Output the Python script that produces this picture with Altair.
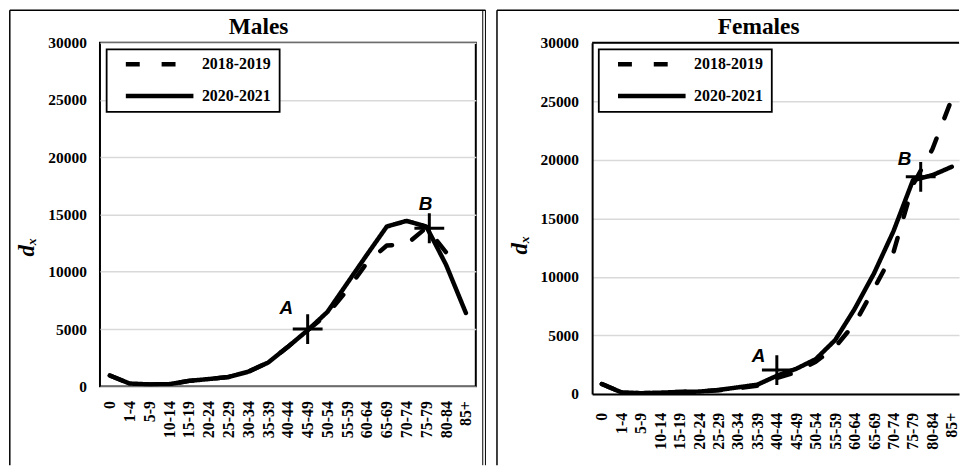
import json
import altair as alt
import pandas as pd

# ---------------- data ----------------
ages = ["0", "1-4", "5-9", "10-14", "15-19", "20-24", "25-29", "30-34", "35-39",
        "40-44", "45-49", "50-54", "55-59", "60-64", "65-69", "70-74", "75-79",
        "80-84", "85+"]
periods = ["2018-2019", "2020-2021"]

males_2018_2019 = [950, 250, 170, 190, 480, 640, 820, 1280, 2080, 3450, 4900,
                   6300, 8400, 10800, 12300, 12400, 13850, 11700, None]
males_2020_2021 = [950, 250, 170, 190, 480, 640, 820, 1280, 2080, 3450, 4900,
                   6500, 9000, 11500, 13950, 14440, 13950, 10600, 6400]

females_2018_2019 = [850, 140, 60, 110, 170, 200, 320, 480, 700, 1350, 1850,
                     2750, 4000, 6000, 9000, 12100, 17850, 20900, 25200]
females_2020_2021 = [850, 140, 60, 110, 170, 200, 340, 560, 790, 1550, 2150,
                     2970, 4600, 7250, 10300, 13900, 18250, 18680, 19400]

y_ticks = [0, 5000, 10000, 15000, 20000, 25000, 30000]

# annotation crosses (category position, d_x value)
males_ann_labels = ["A", "B"]
males_ann_pos = [10.0, 16.15]
males_ann_val = [5000, 13800]
females_ann_labels = ["A", "B"]
females_ann_pos = [9.0, 16.4]
females_ann_val = [2040, 18540]

SERIF = "Liberation Serif, Times New Roman, serif"
SANS = "Liberation Sans, Arial, sans-serif"
label_expr = json.dumps(ages) + "[datum.value]"


def panel(title, s_old, s_new, ann_labels, ann_pos, ann_val, ann_offsets,
          width, height, x_max, title_dx, title_offset, xlab_pad, title_y,
          frame_left, right_lines, top_right, own_border):
    rows = []
    for name, series in zip(periods, [s_old, s_new]):
        for i, v in enumerate(series):
            if v is not None:
                rows.append({"idx": i, "age": ages[i], "period": name, "value": v})
    df = pd.DataFrame(rows)

    x = alt.X("idx:Q",
              scale=alt.Scale(domain=[-0.5, x_max], nice=False, zero=False),
              axis=alt.Axis(values=list(range(len(ages))), labelExpr=label_expr,
                            labelAngle=270, labelAlign="right", labelBaseline="middle",
                            labelPadding=xlab_pad, ticks=False, tickSize=0,
                            domain=own_border, domainColor="black", domainWidth=2,
                            grid=False, title=None,
                            labelFont=SERIF, labelFontSize=16, labelFontWeight="bold",
                            labelColor="black", labelOverlap=False))
    y = alt.Y("value:Q",
              scale=alt.Scale(domain=[0, 30000], nice=False),
              axis=alt.Axis(values=y_ticks, format="d", ticks=False, tickSize=0,
                            domain=own_border, domainColor="black", domainWidth=2,
                            grid=True, gridColor="#d9d9d9", gridWidth=1.5,
                            labelFont=SERIF, labelFontSize=15.5, labelFontWeight="bold",
                            labelColor="black", labelPadding=13.7,
                            title="dₓ", titleFont=SERIF, titleFontSize=23,
                            titleFontStyle="italic", titleFontWeight="bold",
                            titleColor="black", titleAngle=270, titleAlign="center",
                            titleBaseline="alphabetic", titleX=-66.5, titleY=title_y))

    lines = alt.Chart(df).mark_line(
        color="black", strokeWidth=4.5, strokeCap="round", strokeJoin="round", clip=True
    ).encode(
        x=x, y=y,
        strokeDash=alt.StrokeDash(
            "period:N",
            scale=alt.Scale(domain=periods, range=[[14, 22], [1, 0]]),
            legend=alt.Legend(orient="none", legendX=6.7, legendY=6.7, title=None,
                              direction="vertical", padding=8,
                              strokeColor="black", fillColor="white",
                              symbolType="stroke", symbolSize=4624,
                              symbolStrokeWidth=4.5, symbolStrokeColor="black",
                              symbolOffset=8.8, clipHeight=14, rowPadding=16,
                              labelOffset=6, labelFont=SERIF, labelFontSize=16,
                              labelFontWeight="bold", labelColor="black")),
    )

    ann = pd.DataFrame({"label": ann_labels, "idx": ann_pos, "value": ann_val})
    crosses = alt.Chart(ann).mark_point(
        shape="M-1,0L1,0M0,-1L0,1", size=900, strokeWidth=3, color="black",
        filled=False, opacity=1
    ).encode(x=x, y=y)

    layers = [lines, crosses]
    for i, (dx, dy) in enumerate(ann_offsets):
        layers.append(
            alt.Chart(ann.iloc[[i]]).mark_text(
                dx=dx, dy=dy, font=SANS, fontSize=19, fontStyle="italic",
                fontWeight="bold", color="black", align="center", baseline="middle"
            ).encode(x=x, y=y, text="label:N")
        )

    frame_src = alt.Chart(pd.DataFrame({"k": [0]}))
    if own_border:
        # top edge of the plot area (the right edge lies outside the picture)
        layers.append(frame_src.mark_rule(color="black", strokeWidth=2).encode(
            y=alt.datum(30000)))
    layers.append(frame_src.mark_rule(color="black", strokeWidth=1.5).encode(
        x=alt.value(frame_left), y=alt.value(-32.7), y2=alt.value(425)))
    layers.append(frame_src.mark_rule(color="black", strokeWidth=1.5).encode(
        x=alt.value(frame_left), x2=alt.value(top_right), y=alt.value(-32.7)))
    for rx in right_lines:
        layers.append(frame_src.mark_rule(color="black", strokeWidth=1).encode(
            x=alt.value(rx), y=alt.value(-32.7), y2=alt.value(425)))

    props = dict(
        width=width, height=height,
        title=alt.TitleParams(title, font=SERIF, fontSize=23.5, fontWeight="bold",
                              color="black", anchor="middle", dx=title_dx,
                              offset=title_offset, baseline="alphabetic"),
    )
    if own_border:
        props["view"] = alt.ViewBackground(stroke="transparent")
    return alt.layer(*layers).properties(**props)


males = panel("Males", males_2018_2019, males_2020_2021,
              males_ann_labels, males_ann_pos, males_ann_val,
              [(-21.6, -20.7), (-3.9, -24.2)],
              width=378, height=345.7, x_max=18.5, title_dx=-29.5,
              title_offset=-48.5, xlab_pad=14.3, title_y=205, frame_left=-90.7,
              right_lines=[385, 387.7], top_right=387.7, own_border=False)

females = panel("Females", females_2018_2019, females_2020_2021,
                females_ann_labels, females_ann_pos, females_ann_val,
                [(-18.5, -13.6), (-16.3, -18.3)],
                width=369, height=353.3, x_max=18.37, title_dx=-17,
                title_offset=-48.5, xlab_pad=18.4, title_y=203, frame_left=-95.7,
                right_lines=[], top_right=369, own_border=True)

chart = alt.hconcat(males, females, spacing=7).resolve_scale(
    strokeDash="independent"
).resolve_legend(strokeDash="independent").configure(
    padding={"left": 7.55, "top": 6.55, "right": 0, "bottom": 0},
    background="white",
).configure_view(stroke="black", strokeWidth=2).configure_legend(strokeWidth=1.8)

chart.save("out.html", embed_options={"renderer": "svg", "actions": False})
